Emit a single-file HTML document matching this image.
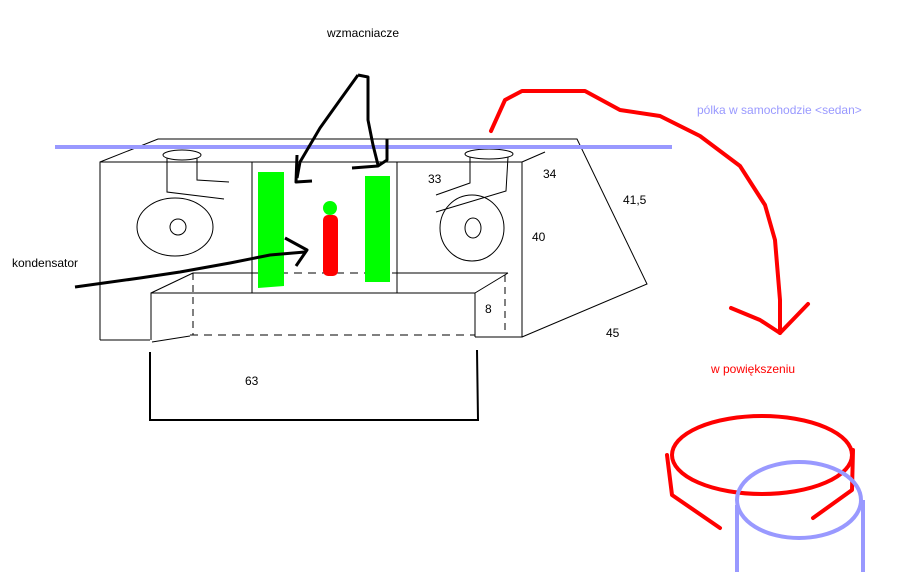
<!DOCTYPE html>
<html><head><meta charset="utf-8"><style>
html,body{margin:0;padding:0;background:#fff;width:911px;height:574px;overflow:hidden}
text{font-family:"Liberation Sans",sans-serif;font-size:12px}
</style></head><body>
<svg width="911" height="574" viewBox="0 0 911 574" xmlns="http://www.w3.org/2000/svg">
<g fill="none" stroke="#000" stroke-width="1">
<polyline points="100,340 100,162 522,162 522,337 475,337"/>
<line x1="100" y1="340" x2="150" y2="340"/>
<polyline points="100,162 158,139 577,139 647,284 522,337"/>
<line x1="522" y1="162" x2="545" y2="152"/>
<line x1="252" y1="162" x2="252" y2="293"/>
<line x1="397" y1="162" x2="397" y2="293"/>
<line x1="193" y1="273" x2="252" y2="273"/>
<line x1="252" y1="273" x2="397" y2="273" stroke-dasharray="8,6"/>
<line x1="397" y1="273" x2="508" y2="273"/>
<polyline points="151,340 151,293 475,293 475,337"/>
<line x1="151" y1="293" x2="193" y2="273"/>
<line x1="475" y1="293" x2="508" y2="273"/>
<line x1="193" y1="273" x2="193" y2="335" stroke-dasharray="7,5"/>
<line x1="505" y1="275" x2="505" y2="334" stroke-dasharray="7,5"/>
<line x1="152" y1="342" x2="190" y2="336"/>
<line x1="190" y1="335" x2="475" y2="335" stroke-dasharray="8,6"/>
<ellipse cx="175" cy="227" rx="38" ry="29"/>
<circle cx="178" cy="227" r="8"/>
<ellipse cx="472" cy="228" rx="32" ry="33"/>
<ellipse cx="473" cy="228" rx="8" ry="10"/>
<ellipse cx="182" cy="155" rx="19" ry="5"/>
<polyline points="167,158 167,192 224,199"/>
<polyline points="197,158 197,180 229,182"/>
<ellipse cx="489" cy="154" rx="24" ry="5"/>
<polyline points="470,157 470,183 436,195"/>
<polyline points="508,157 506,191 436,212"/>
</g>
<polyline points="150,352 150,420 478,420 477,350" fill="none" stroke="#000" stroke-width="2"/>
<polygon points="258,172 284,172 284,286 258,288" fill="#00ff00"/>
<rect x="365" y="176" width="25" height="106" fill="#00ff00"/>
<rect x="323" y="215" width="15" height="61" rx="5" fill="#ff0000"/>
<circle cx="330" cy="208" r="7" fill="#00ff00"/>
<line x1="55" y1="147" x2="672" y2="147" stroke="#9999ff" stroke-width="4"/>
<g fill="none" stroke="#000" stroke-width="3" stroke-linejoin="round">
<polyline points="75,287 140,278 180,272 230,263 270,255 305,252"/>
<polyline points="285,238 307,250 296,266"/>
<polyline points="358,75 340,100 320,128 310,145 300,162 297,178"/>
<polyline points="297,155 296,182 312,181"/>
<polyline points="358,75 368,77 368,120 373,145 378,165"/>
<polyline points="387,139 387,160 378,166 352,168"/>
</g>
<g fill="none" stroke="#ff0000" stroke-width="4" stroke-linejoin="round" stroke-linecap="round">
<polyline points="491,131 505,100 522,91 585,91 620,110 660,116 700,136 740,166 765,205 775,240 780,300 780,333"/>
<polyline points="731,308 760,320 780,333 808,304"/>
<ellipse cx="762" cy="455" rx="90" ry="39"/>
<polyline points="667,455 672,495 720,528"/>
<polyline points="853,450 852,490 813,518"/>
</g>
<g fill="none" stroke="#9999ff" stroke-width="4">
<ellipse cx="799" cy="500" rx="62" ry="38"/>
<line x1="737" y1="505" x2="737" y2="572"/>
<line x1="863" y1="500" x2="863" y2="572"/>
</g>
<text x="327" y="37">wzmacniacze</text>
<text x="12" y="267">kondensator</text>
<text x="697" y="114" fill="#9999ff">pólka w samochodzie &lt;sedan&gt;</text>
<text x="711" y="373" fill="#ff0000">w powiększeniu</text>
<text x="428" y="183">33</text>
<text x="543" y="178">34</text>
<text x="623" y="204">41,5</text>
<text x="532" y="241">40</text>
<text x="485" y="313">8</text>
<text x="606" y="337">45</text>
<text x="245" y="385">63</text>
</svg>
</body></html>
